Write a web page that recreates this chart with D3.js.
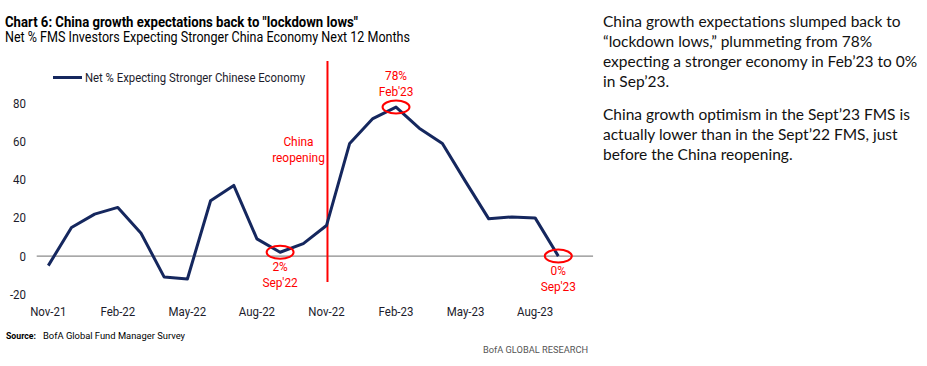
<!DOCTYPE html>
<html>
<head>
<meta charset="utf-8">
<script src="https://cdn.jsdelivr.net/npm/d3@7"></script>
<style>
  html, body { margin: 0; padding: 0; background: #fff; }
  svg { display: block; }
  svg text { font-family: Roboto, "Liberation Sans", sans-serif; }
  svg text.note { font-family: Lato, "Open Sans", sans-serif; }
</style>
</head>
<body>
<div id="chart"></div>
<script>
// monthly survey readings, Nov-21 .. Sep-23
const months = ["Nov-21", "Dec-21", "Jan-22", "Feb-22", "Mar-22", "Apr-22", "May-22", "Jun-22",
  "Jul-22", "Aug-22", "Sep-22", "Oct-22", "Nov-22", "Dec-22", "Jan-23", "Feb-23", "Mar-23",
  "Apr-23", "May-23", "Jun-23", "Jul-23", "Aug-23", "Sep-23"];
const netPct = [-5, 15, 22, 25.5, 12, -11, -12, 29, 37, 9, 2, 6.5, 16, 59, 72, 78, 67, 59, 39,
  19.5, 20.5, 20, 0];
const xTickLabels = ["Nov-21", "Feb-22", "May-22", "Aug-22", "Nov-22", "Feb-23", "May-23", "Aug-23"];
const yTicks = [-20, 0, 20, 40, 60, 80];
const reopenMonth = "Nov-22";
const callouts = [
  { month: "Sep-22", value: 2, text: ["2%", "Sep'22"], below: true },
  { month: "Feb-23", value: 78, text: ["78%", "Feb'23"], below: false },
  { month: "Sep-23", value: 0, text: ["0%", "Sep'23"], below: true }
];
const seriesName = "Net % Expecting Stronger Chinese Economy";
const commentary = [
  ["China growth expectations slumped back to",
   "\u201clockdown lows,\u201d plummeting from 78%",
   "expecting a stronger economy in Feb\u201923 to 0%",
   "in Sep\u201923."],
  ["China growth optimism in the Sept\u201923 FMS is",
   "actually lower than in the Sept\u201922 FMS, just",
   "before the China reopening."]
];

const W = 927, H = 366;
const navy = "#15275e", red = "#ff0000", ink = "#1c1c2c";

// squeeze text horizontally to mimic the condensed house font
function squeeze(sel, k) {
  sel.each(function () {
    const w = this.getComputedTextLength();
    d3.select(this).attr("textLength", w * k).attr("lengthAdjust", "spacingAndGlyphs");
  });
}
function fitTo(sel, width) {
  sel.attr("textLength", width).attr("lengthAdjust", "spacingAndGlyphs");
}

const svg = d3.select("#chart").append("svg")
  .attr("width", W).attr("height", H)
  .attr("viewBox", `0 0 ${W} ${H}`);

svg.append("rect").attr("width", W).attr("height", H).attr("fill", "#fff");

// titles
fitTo(svg.append("text")
  .attr("x", 5).attr("y", 27)
  .attr("font-size", 14).attr("font-weight", "bold").attr("fill", "#000")
  .text('Chart 6: China growth expectations back to "lockdown lows"'), 353);
fitTo(svg.append("text")
  .attr("x", 5).attr("y", 42)
  .attr("font-size", 14).attr("fill", "#000")
  .text("Net % FMS Investors Expecting Stronger China Economy Next 12 Months"), 405);

const x = d3.scalePoint().domain(months).range([48.3, 558.3]);
const y = d3.scaleLinear().domain([-20, 80]).range([294.3, 103.3]);
const step = x.step();

const plot = svg.append("g");

// zero line
plot.append("line")
  .attr("x1", x(months[0]) - step / 2)
  .attr("x2", x(months[months.length - 1]) + step * 1.5)
  .attr("y1", y(0)).attr("y2", y(0))
  .attr("stroke", "#6e6e6e").attr("stroke-width", 1);

// y labels
squeeze(plot.append("g").selectAll("text")
  .data(yTicks)
  .join("text")
  .attr("x", 26).attr("y", d => y(d) + 4.5)
  .attr("text-anchor", "end")
  .attr("font-size", 12.5).attr("fill", ink)
  .text(d => d), 0.92);

// x labels
squeeze(plot.append("g").selectAll("text")
  .data(xTickLabels)
  .join("text")
  .attr("x", d => x(d)).attr("y", 316)
  .attr("text-anchor", "middle")
  .attr("font-size", 13.5).attr("fill", ink)
  .text(d => d), 0.85);

// reopening marker
const rx = x(reopenMonth) + 1;
plot.append("line")
  .attr("x1", rx).attr("x2", rx)
  .attr("y1", 61).attr("y2", 282)
  .attr("stroke", red).attr("stroke-width", 2);
squeeze(plot.append("g").selectAll("text")
  .data(["China", "reopening"])
  .join("text")
  .attr("x", rx - 29)
  .attr("y", (d, i) => 146 + i * 15.5)
  .attr("text-anchor", "middle")
  .attr("font-size", 13.5).attr("fill", red)
  .text(d => d), 0.88);

// series line
const line = d3.line()
  .x((d, i) => x(months[i]))
  .y(d => y(d));

plot.append("path")
  .datum(netPct)
  .attr("d", line)
  .attr("fill", "none")
  .attr("stroke", navy)
  .attr("stroke-width", 3)
  .attr("stroke-linejoin", "round");

// callouts
const co = plot.append("g").selectAll("g")
  .data(callouts)
  .join("g");

co.append("ellipse")
  .attr("cx", d => x(d.month))
  .attr("cy", d => y(d.value))
  .attr("rx", 13.5).attr("ry", 6.5)
  .attr("fill", "none").attr("stroke", red).attr("stroke-width", 2);

co.each(function (d) {
  const g = d3.select(this);
  const base = d.below ? y(d.value) + 19 : y(d.value) - 27;
  squeeze(g.selectAll("text.lbl")
    .data(d.text)
    .join("text")
    .attr("class", "lbl")
    .attr("x", x(d.month))
    .attr("y", (s, i) => base + i * 16)
    .attr("text-anchor", "middle")
    .attr("font-size", 13.5).attr("fill", red)
    .text(s => s), 0.88);
});

// legend
const lg = svg.append("g");
lg.append("line")
  .attr("x1", 53).attr("x2", 82)
  .attr("y1", 77.5).attr("y2", 77.5)
  .attr("stroke", navy).attr("stroke-width", 3);
fitTo(lg.append("text")
  .attr("x", 85).attr("y", 82)
  .attr("font-size", 12.5).attr("fill", ink)
  .text(seriesName), 220);

// source
fitTo(svg.append("text")
  .attr("x", 6).attr("y", 339)
  .attr("font-size", 9.5).attr("font-weight", "bold").attr("fill", "#000")
  .text("Source:"), 30);
fitTo(svg.append("text")
  .attr("x", 43).attr("y", 339)
  .attr("font-size", 9.5).attr("fill", "#000")
  .text("BofA Global Fund Manager Survey"), 142);

fitTo(svg.append("text")
  .attr("x", 483).attr("y", 353)
  .attr("font-size", 9.5).attr("fill", "#555")
  .text("BofA GLOBAL RESEARCH"), 105);

// commentary
const note = svg.append("g");
let yy = 27;
commentary.forEach(par => {
  par.forEach(s => {
    note.append("text").attr("class", "note")
      .attr("x", 603).attr("y", yy)
      .attr("font-size", 15.5).attr("fill", "#111")
      .text(s);
    yy += 20;
  });
  yy += 13;
});
</script>
</body>
</html>
